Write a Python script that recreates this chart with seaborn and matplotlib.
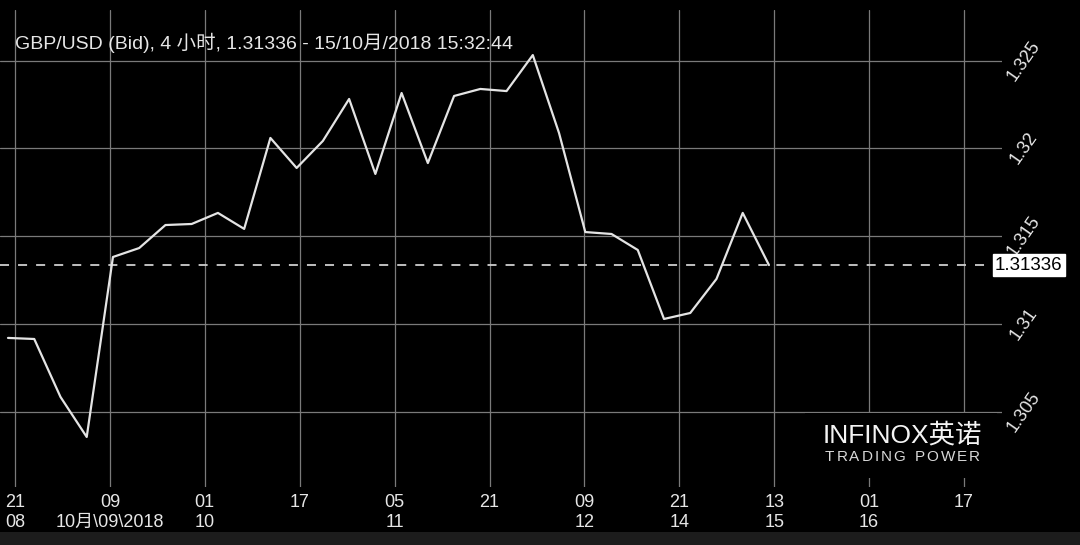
import matplotlib
matplotlib.use("Agg")
import matplotlib.pyplot as plt
import matplotlib.transforms as mtransforms
from matplotlib.patches import Rectangle
import numpy as np
import pandas as pd
import seaborn as sns

# ---------------- data ----------------
bar_index = list(range(30))
bid_close = [1.30921, 1.30915, 1.30585, 1.30357, 1.31382, 1.31433, 1.31564, 1.31570,
             1.31633, 1.31542, 1.32060, 1.31889, 1.32043, 1.32282, 1.31855, 1.32316,
             1.31917, 1.32299, 1.32339, 1.32327, 1.32532, 1.32088, 1.31524, 1.31513,
             1.31422, 1.31029, 1.31063, 1.31257, 1.31633, 1.31336]
hour_labels = ["21", "09", "01", "17", "05", "21", "09", "21", "13", "01", "17"]
date_labels = ["08", "10月\\09\\2018", "10", "", "11", "", "12", "14", "15", "16", ""]
y_ticks = [1.305, 1.31, 1.315, 1.32, 1.325]
y_labels = ["1.305", "1.31", "1.315", "1.32", "1.325"]
current_price = 1.31336
current_label = "1.31336"
title_text = "GBP/USD (Bid), 4 小时, 1.31336 - 15/10月/2018 15:32:44"
logo_main = "INFINOX英诺"
logo_sub = "TRADING POWER"

df = pd.DataFrame({"bar": bar_index, "bid": bid_close})

# ---------------- style ----------------
sns.set_theme(style="dark")
plt.rcParams["font.family"] = ["Liberation Sans", "Noto Sans CJK SC", "DejaVu Sans"]

TXT = "#e6e6e6"
GRID = "#7a7a7a"
W, H = 1080, 545

fig = plt.figure(figsize=(W / 100, H / 100), dpi=100, facecolor="black")
# bottom dark band
fig.patches.append(Rectangle((0, 0), 1, 13 / H, transform=fig.transFigure,
                             facecolor="#1c1c1c", edgecolor="none", zorder=0))

ax_left, ax_right, ax_top, ax_bottom = 0, 1002, 10, 487
ax = fig.add_axes([ax_left / W, 1 - ax_bottom / H, (ax_right - ax_left) / W,
                   (ax_bottom - ax_top) / H])
ax.set_facecolor("black")
for s in ax.spines.values():
    s.set_visible(False)

# x geometry (bar index units)
px_per_bar = 26.24
first_px = 8
first_tick = (15 - first_px) / px_per_bar
tick_step = 94.9 / px_per_bar
ax.set_xlim((ax_left - first_px) / px_per_bar, (ax_right - first_px) / px_per_bar)
ax.set_ylim(1.30072, 1.327887)

sns.lineplot(data=df, x="bar", y="bid", ax=ax, color="#e4e4e4", linewidth=1.6,
             zorder=4)

xt = [first_tick + k * tick_step for k in range(len(hour_labels))]
xl = [h + ("\n" + d if d else "") for h, d in zip(hour_labels, date_labels)]
ax.set_xticks(xt)
ax.set_xticklabels(xl, color=TXT, fontsize=13, linespacing=1.2,
                   ha="center", va="top")
ax.tick_params(axis="x", length=0, pad=5)

ax.yaxis.tick_right()
ax.set_yticks(y_ticks)
ax.set_yticklabels(y_labels, color=TXT, fontsize=13, rotation=55,
                   ha="center", va="center", rotation_mode="anchor")
ax.tick_params(axis="y", length=0, pad=16)

ax.grid(True, color=GRID, linewidth=0.9, zorder=1)
ax.set_xlabel("")
ax.set_ylabel("")

# current price dashed line
ax.axhline(current_price, xmin=0, xmax=990 / 1002, color="#cfcfcf", linewidth=1.3,
           linestyle=(0, (5, 5)), zorder=3)
trans = mtransforms.blended_transform_factory(ax.transAxes, ax.transData)
ax.text(995 / 1002, current_price, current_label, transform=trans, ha="left",
        va="center", fontsize=13.5, color="black", clip_on=False, zorder=10,
        bbox=dict(boxstyle="square,pad=0.12", facecolor="white", edgecolor="white"))

# title
fig.text(15 / W, 1 - 43 / H, title_text, color=TXT, fontsize=14, ha="left",
         va="center")

# logo block with black background
fig.patches.append(Rectangle((805 / W, 1 - 478 / H), 192 / W, 65 / H,
                             transform=fig.transFigure, facecolor="black",
                             edgecolor="none", zorder=5))
fig.text(823 / W, 1 - 435 / H, logo_main, color="#f4f4f4", fontsize=19,
         ha="left", va="center", zorder=6, weight="medium",
         family=["Liberation Sans", "Noto Sans CJK SC"])

# letter-spaced subtitle
fig.canvas.draw()
renderer = fig.canvas.get_renderer()
x_px = 825
for ch in logo_sub:
    t = fig.text(x_px / W, 1 - 457 / H, ch, color="#d8d8d8", fontsize=11,
                 ha="left", va="center", zorder=6)
    bb = t.get_window_extent(renderer)
    adv = bb.width if ch != " " else 5
    x_px += adv + 2.0

fig.savefig("out.png", dpi=100, facecolor="black")
